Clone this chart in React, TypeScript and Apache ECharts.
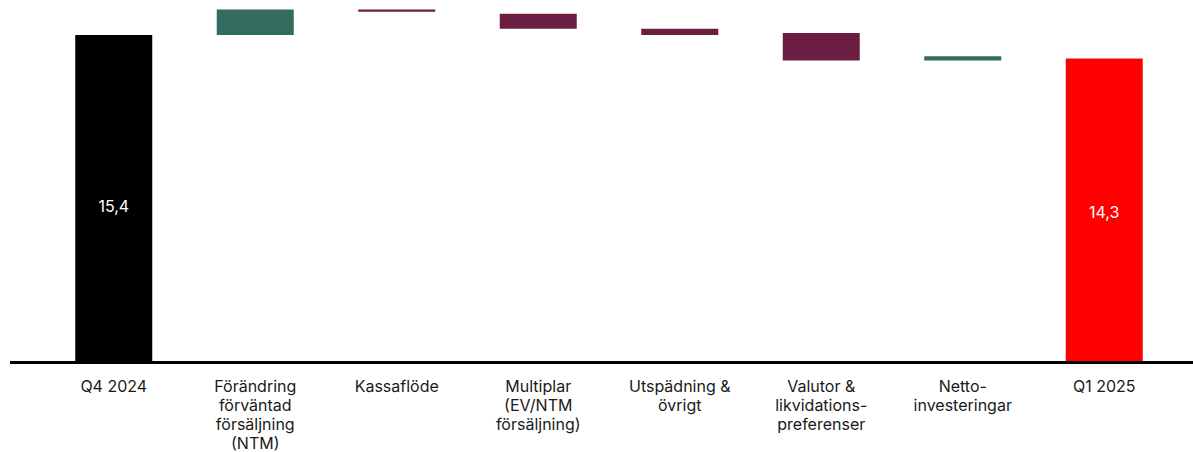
import React, { useEffect, useRef } from "react";
import * as echarts from "echarts";

// Bridge from Q4 2024 to Q1 2025 value (billions)
const categories = [
  "Q4 2024",
  "Förändring\nförväntad\nförsäljning\n(NTM)",
  "Kassaflöde",
  "Multiplar\n(EV/NTM\nförsäljning)",
  "Utspädning &\növrigt",
  "Valutor &\nlikvidations-\npreferenser",
  "Netto-\ninvesteringar",
  "Q1 2025",
];

const openingValue = 15.4;
const closingValue = 14.3;

// Intermediate steps: lower and upper edge of each floating bar
const stepLow = [15.4, 16.5, 15.7, 15.4, 14.2, 14.2];
const stepHigh = [16.6, 16.6, 16.4, 15.7, 15.5, 14.4];
const stepDirection = ["up", "down", "down", "down", "down", "up"];

const COLOR_UP = "#336b5f";
const COLOR_DOWN = "#6b1d42";
const COLOR_OPEN = "#000000";
const COLOR_CLOSE = "#ff0000";

const fmt = (v: number) => v.toFixed(1).replace(".", ",");

export default function App() {
  const ref = useRef<HTMLDivElement>(null);

  useEffect(() => {
    document.body.style.margin = "0";
    if (!ref.current) return;
    const chart = echarts.init(ref.current, null, { renderer: "svg" });

    const baseData = [0, ...stepLow, 0];
    const barData: any[] = [
      {
        value: openingValue,
        itemStyle: { color: COLOR_OPEN },
        label: { show: true, offset: [0, 7] },
      },
      ...stepLow.map((low, i) => ({
        value: +(stepHigh[i] - low).toFixed(3),
        itemStyle: { color: stepDirection[i] === "up" ? COLOR_UP : COLOR_DOWN },
        label: { show: false },
      })),
      {
        value: closingValue,
        itemStyle: { color: COLOR_CLOSE },
        label: { show: true, offset: [0, 2] },
      },
    ];

    chart.setOption({
      animation: false,
      grid: { left: 43, right: 18, top: 0, bottom: 89 },
      xAxis: {
        type: "category",
        data: categories,
        axisLine: { show: false },
        axisTick: { show: false },
        axisLabel: {
          interval: 0,
          margin: 14,
          fontSize: 16,
          lineHeight: 19,
          color: "#1a1a1a",
          fontFamily: "Inter, 'Noto Sans', sans-serif",
        },
      },
      yAxis: {
        type: "value",
        min: 0,
        max: 17.05,
        show: false,
        splitLine: { show: false },
      },
      graphic: [
        {
          type: "line",
          shape: { x1: 10, y1: 362.5, x2: 1193, y2: 362.5 },
          style: { stroke: "#000000", lineWidth: 3 },
          z: 10,
        },
      ],
      series: [
        {
          type: "bar",
          stack: "bridge",
          data: baseData,
          barWidth: 77,
          itemStyle: { color: "transparent" },
          silent: true,
        },
        {
          type: "bar",
          stack: "bridge",
          data: barData,
          barWidth: 77,
          label: {
            position: "inside",
            color: "#ffffff",
            fontSize: 16,
            fontFamily: "Inter, 'Noto Sans', sans-serif",
            formatter: (p: any) => fmt(p.value),
          },
        },
      ],
    });

    return () => chart.dispose();
  }, []);

  return <div ref={ref} style={{ width: 1193, height: 452 }} />;
}
